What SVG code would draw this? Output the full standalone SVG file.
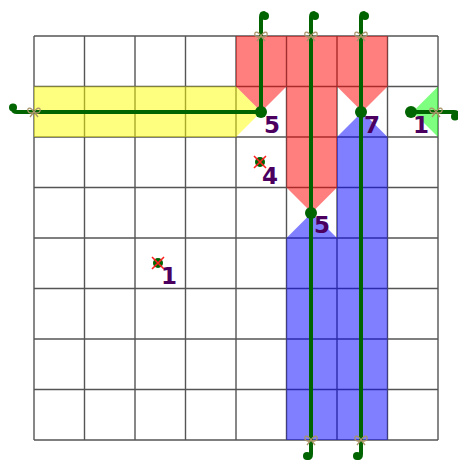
<svg xmlns="http://www.w3.org/2000/svg" width="458" height="465" viewBox="0 0 458 465">
<defs>
<style>
.grid{stroke:#555;stroke-width:1.4;fill:none}
.red{fill:rgb(255,0,0);fill-opacity:0.5}
.blue{fill:rgb(0,0,255);fill-opacity:0.5}
.yel{fill:rgb(255,255,0);fill-opacity:0.5}
.grn{fill:rgb(0,255,0);fill-opacity:0.5}
.wire{stroke:#006400;stroke-width:4;fill:none;stroke-linecap:round}
.dot{fill:#006400}
.num{font-family:"DejaVu Sans",sans-serif;font-weight:bold;font-size:23px;fill:#4b005f}
.x{stroke:#ff2020;stroke-width:1.6}
.bow{stroke:#a89468;stroke-width:1.3;fill:none}
</style>
<g id="bowmark">
<path class="bow" d="M0,0 C-3,-5 -7,-5 -6,-1 C-5,2 -2,1 0,0 C2,1 5,2 6,-1 C7,-5 3,-5 0,0 M0,0 L-4,5 M0,0 L4,5"/>
</g>
</defs>
<rect width="458" height="465" fill="#fff"/>
<g id="grid" class="grid">
<path d="M34,36V440M84.5,36V440M135,36V440M185.5,36V440M236,36V440M286.5,36V440M337,36V440M387.5,36V440M438,36V440"/>
<path d="M34,36H438M34,86.5H438M34,137H438M34,187.5H438M34,238H438M34,288.5H438M34,339H438M34,389.5H438M34,440H438"/>
</g>
<g id="regions">
<path class="yel" d="M34,86.5H236V137H34Z M236,86.5L261.25,111.75L236,137Z"/>
<path class="red" d="M236,36H286.5V86.5H236Z M236,86.5H286.5L261.25,111.75Z"/>
<path class="red" d="M286.5,36H337V187.5H286.5Z M286.5,187.5H337L311.75,212.75Z"/>
<path class="red" d="M337,36H387.5V86.5H337Z M337,86.5H387.5L362.25,111.75Z"/>
<path class="blue" d="M286.5,238H337V440H286.5Z M286.5,238H337L311.75,212.75Z"/>
<path class="blue" d="M337,137H387.5V440H337Z M337,137H387.5L362.25,111.75Z"/>
<path class="grn" d="M438,86.5V137L412.75,111.75Z"/>
</g>
<g id="connectors">
<path class="wire" d="M261,112V17Q261,13 264,13"/>
<path class="wire" d="M311,213V17Q311,13 314,13"/>
<path class="wire" d="M361,112V17Q361,13 364,13"/>
<path class="wire" d="M311,213V454Q311,458 308,458"/>
<path class="wire" d="M361,112V454Q361,458 358,458"/>
<path class="wire" d="M261,112H17Q13,112 13,109"/>
<path class="wire" d="M411,112H454Q458,112 458,115"/>
<circle class="dot" cx="265" cy="16" r="4"/>
<circle class="dot" cx="315" cy="16" r="4"/>
<circle class="dot" cx="365" cy="16" r="4"/>
<circle class="dot" cx="307" cy="456" r="4"/>
<circle class="dot" cx="357" cy="456" r="4"/>
<circle class="dot" cx="13" cy="107.5" r="4"/>
<circle class="dot" cx="455" cy="116.5" r="4"/>
<use href="#bowmark" x="34" y="112"/>
<use href="#bowmark" x="261" y="36"/>
<use href="#bowmark" x="311" y="36"/>
<use href="#bowmark" x="361" y="36"/>
<use href="#bowmark" x="436" y="112"/>
<use href="#bowmark" x="311" y="440"/>
<use href="#bowmark" x="361" y="440"/>
</g>
<g id="node-a"><circle class="dot" cx="261" cy="112" r="6"/><text class="num" x="264" y="133">5</text></g>
<g id="node-b"><circle class="dot" cx="361" cy="112" r="6"/><text class="num" x="364" y="133">7</text></g>
<g id="node-c"><circle class="dot" cx="411" cy="112" r="6"/><text class="num" x="413" y="133">1</text></g>
<g id="node-d"><circle class="dot" cx="311" cy="213" r="6"/><text class="num" x="314" y="233">5</text></g>
<g id="node-e"><circle class="dot" cx="260" cy="162" r="5"/><path class="x" d="M254,156L266,168M266,156L254,168"/><text class="num" x="262" y="184">4</text></g>
<g id="node-f"><circle class="dot" cx="158" cy="263" r="5"/><path class="x" d="M152,257L164,269M164,257L152,269"/><text class="num" x="161" y="284">1</text></g>
</svg>
